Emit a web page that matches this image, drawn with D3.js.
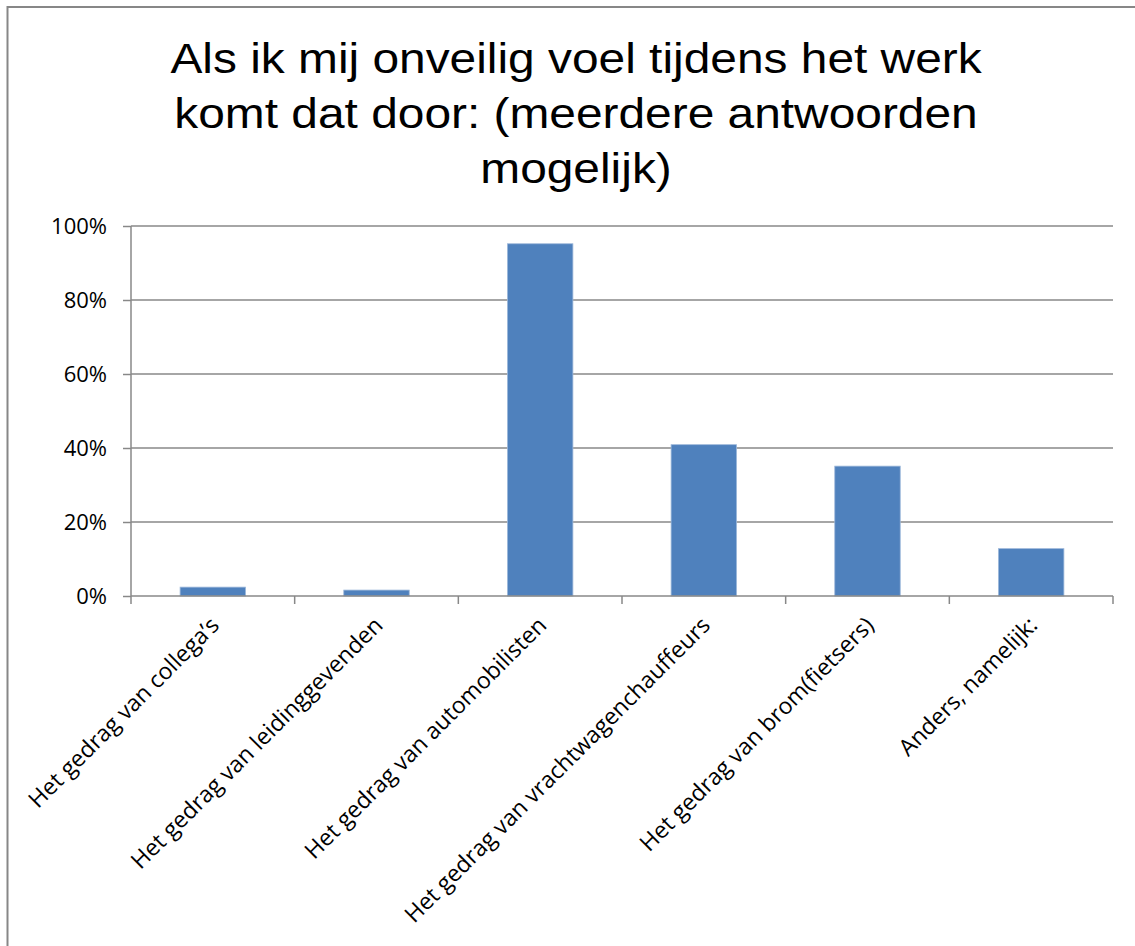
<!DOCTYPE html>
<html>
<head>
<meta charset="utf-8">
<script src="https://cdn.jsdelivr.net/npm/d3@7"></script>
<style>
  html, body { margin: 0; padding: 0; background: #fff; }
  svg { display: block; }
</style>
</head>
<body>
<script>
const titleLines = ["Als ik mij onveilig voel tijdens het werk", "komt dat door: (meerdere antwoorden", "mogelijk)"];
const categories = [
  "Het gedrag van collega’s",
  "Het gedrag van leidinggevenden",
  "Het gedrag van automobilisten",
  "Het gedrag van vrachtwagenchauffeurs",
  "Het gedrag van brom(fietsers)",
  "Anders, namelijk:"
];
const values = [0.024, 0.016, 0.952, 0.409, 0.351, 0.128];
const yTicks = [0, 0.2, 0.4, 0.6, 0.8, 1.0];
const yTickLabels = ["0%", "20%", "40%", "60%", "80%", "100%"];

const W = 1135, H = 946;
const svg = d3.select("body").append("svg").attr("width", W).attr("height", H);

// chart border (extends beyond right/bottom like the reference)
svg.append("rect")
  .attr("x", 7.5).attr("y", 7)
  .attr("width", 1300).attr("height", 1100)
  .attr("fill", "#fff").attr("stroke", "#878787").attr("stroke-width", 2);

// title (horizontally stretched sans like the reference)
const titleCx = 576, titleScale = 1.14;
svg.append("g").attr("transform", `translate(${titleCx},0) scale(${titleScale},1)`)
  .selectAll("text").data(titleLines).join("text")
  .attr("x", 0).attr("y", (d, i) => 73 + i * 55)
  .attr("text-anchor", "middle")
  .attr("font-family", "Liberation Sans, Arial, sans-serif")
  .attr("font-size", 42)
  .attr("fill", "#000")
  .text(d => d);

const x0 = 131, x1 = 1113, yTop = 226, yBot = 596;
const x = d3.scaleBand().domain(categories).range([x0, x1]).paddingInner(0.6).paddingOuter(0.3);
const y = d3.scaleLinear().domain([0, 1]).range([yBot, yTop]);

// gridlines
svg.append("g").selectAll("line").data(yTicks.slice(1)).join("line")
  .attr("x1", x0).attr("x2", x1)
  .attr("y1", d => y(d)).attr("y2", d => y(d))
  .attr("stroke", "#888").attr("stroke-width", 1.5);

// bars
svg.append("g").selectAll("rect").data(values).join("rect")
  .attr("x", (d, i) => x(categories[i]))
  .attr("width", x.bandwidth())
  .attr("y", d => y(d))
  .attr("height", d => yBot - y(d))
  .attr("fill", "#4f81bd")
  .attr("stroke", "#9db8da").attr("stroke-width", 0.8);

// y axis
const yAxis = d3.axisLeft(y).tickValues(yTicks).tickSize(8).tickPadding(16)
  .tickFormat((d, i) => yTickLabels[i]);
const gy = svg.append("g").attr("transform", `translate(${x0},0)`).call(yAxis);
gy.select(".domain").attr("stroke", "#888").attr("stroke-width", 1.5).attr("d", `M0,${yTop}V${yBot}`);
gy.selectAll(".tick line").attr("stroke", "#888").attr("stroke-width", 1.5);
gy.selectAll(".tick text")
  .attr("font-family", "Open Sans, sans-serif").attr("font-size", 22).attr("fill", "#000");

// x axis with boundary ticks
const step = (x1 - x0) / categories.length;
const boundaries = d3.range(categories.length + 1).map(i => x0 + i * step);
svg.append("line").attr("x1", x0).attr("x2", x1).attr("y1", yBot).attr("y2", yBot)
  .attr("stroke", "#888").attr("stroke-width", 1.5);
svg.append("g").selectAll("line").data(boundaries).join("line")
  .attr("x1", d => d).attr("x2", d => d).attr("y1", yBot).attr("y2", yBot + 8)
  .attr("stroke", "#888").attr("stroke-width", 1.5);

// x labels rotated -45
svg.append("g").selectAll("text").data(categories).join("text")
  .attr("transform", d => `translate(${x(d) + x.bandwidth() / 2 + 2},${yBot + 25}) rotate(-45)`)
  .attr("text-anchor", "end")
  .attr("dy", "0.35em")
  .attr("font-family", "Open Sans, sans-serif").attr("font-size", 23).attr("fill", "#000")
  .text(d => d);
</script>
</body>
</html>
